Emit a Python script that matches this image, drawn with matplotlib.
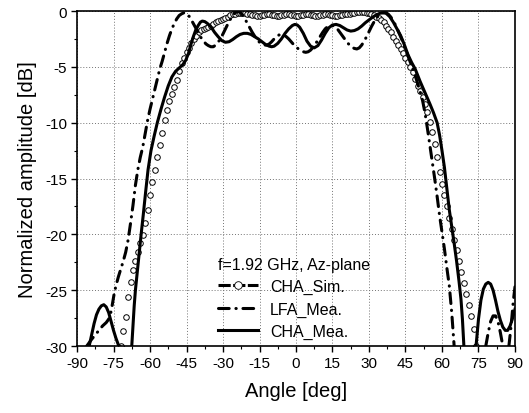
import numpy as np
import matplotlib
matplotlib.use("Agg")
import matplotlib.pyplot as plt
from matplotlib.lines import Line2D
from matplotlib.ticker import MultipleLocator

plt.rcParams['font.family'] = ['Liberation Sans', 'DejaVu Sans']
plt.rcParams['axes.unicode_minus'] = False

nan = np.nan

# CHA simulated pattern, 1 degree steps
sim_ang = list(range(-72, 75))
sim_db = [-30.0, -28.7, -27.4, -25.6, -24.3, -23.2, -22.4, -21.6, -20.8, -20.1,
          -19.0, -17.8, -16.5, -15.3, -14.2, -13.1, -12.0, -10.9, -9.8, -8.9,
          -8.1, -7.4, -6.8, -6.2, -5.4, -4.7, -4.2, -3.7, -3.3, -2.9,
          -2.5, -2.2, -1.9, -1.7, -1.6, -1.5, -1.4, -1.3, -1.2, -1.0,
          -0.9, -0.8, -0.7, -0.6, -0.5, -0.4, -0.3, -0.3, -0.2, -0.2,
          -0.15, -0.2, -0.25, -0.3, -0.35, -0.4, -0.45, -0.45, -0.4, -0.35,
          -0.3, -0.3, -0.35, -0.4, -0.45, -0.45, -0.4, -0.35, -0.3, -0.3,
          -0.35, -0.4, -0.45, -0.45, -0.4, -0.35, -0.3, -0.3, -0.35, -0.4,
          -0.45, -0.45, -0.4, -0.35, -0.3, -0.3, -0.35, -0.4, -0.45, -0.45,
          -0.4, -0.35, -0.3, -0.25, -0.25, -0.2, -0.15, -0.1, -0.1, -0.1,
          -0.1, -0.15, -0.2, -0.3, -0.4, -0.5, -0.6, -0.8, -1.0, -1.3,
          -1.6, -1.9, -2.3, -2.7, -3.0, -3.4, -3.8, -4.2, -4.6, -5.0,
          -5.5, -6.1, -6.7, -7.2, -7.7, -8.3, -9.0, -9.9, -10.8, -11.9,
          -13.1, -14.4, -15.5, -16.5, -17.5, -18.5, -19.5, -20.5, -21.4, -22.4,
          -23.4, -24.4, -25.3, -26.3, -27.3, -28.5, -30.0]

# LFA measured pattern
lfa_ang = [-86, -85, -84, -82.5, -81, -79.5, -78, -77, -76.2, -75.5, -74.8, -74,
           -73, -72, -71, -70, -69, -68, -67, -66, -65, -64, -63, -62, -61, -60,
           -59, -58, -57, -56, -55, -54, -53, -52, -51, -50, -49, -48, -47, -46,
           -45, -44, -43, -42, -41, -40, -39, -38, -37, -36, -35, -34, -33, -32,
           -31, -30, -29, -28, -27, -26, -25, -24, -23, -22, -21, -20, -19, -18,
           -17, -16, -15, -14, -13, -12, -11, -10, -9, -8, -7, -6, -5, -4, -3,
           -2, -1, 0, 1, 2, 3, 4, 5, 6, 7, 8, 9, 10, 11, 12, 13, 14, 15, 16, 17,
           18, 19, 20, 21, 22, 23, 24, 25, 26, 27, 28, 29, 30, 31, 32, 33, 34,
           35, 36, 37, 38, 39, 40, 41, 42, 43, 44, 45, 46, 47, 48, 49, 50, 51,
           52, 53, 54, 55, 56, 57, 58, 59, 60, 61, 62, 63, 64, 65,
           nan, 78, 79, 80, 81, 82, 83, 84, 85,
           nan, 87.5, 88.5, 89.3, 90]
lfa_db = [-30, -29.7, -29.4, -29.0, -28.6, -28.2, -27.9, -27.6, -27.1, -26.3, -25.4, -24.6,
          -23.8, -23.1, -22.4, -21.6, -20.5, -19.0, -17.4, -15.6, -14.2, -13.1, -12.2, -11.0, -9.8, -8.8,
          -7.9, -7.0, -6.1, -5.2, -4.5, -3.7, -2.9, -2.2, -1.6, -1.1, -0.7, -0.4, -0.25, -0.15,
          -0.2, -0.45, -0.8, -1.2, -1.6, -2.0, -2.4, -2.7, -2.95, -3.1, -3.2, -3.2, -3.05, -2.8,
          -2.45, -2.05, -1.6, -1.15, -0.75, -0.4, -0.15, -0.05, -0.1, -0.35, -0.7, -1.1, -1.5, -1.9,
          -2.25, -2.55, -2.8, -2.95, -3.05, -3.05, -2.95, -2.75, -2.5, -2.3, -2.15, -2.1, -2.15, -2.3, -2.5,
          -2.75, -3.0, -3.2, -3.4, -3.55, -3.65, -3.7, -3.65, -3.5, -3.25, -2.95, -2.6, -2.25, -1.9, -1.6, -1.4, -1.3, -1.3, -1.4, -1.6,
          -1.9, -2.2, -2.5, -2.8, -3.05, -3.25, -3.35, -3.4, -3.3, -3.05, -2.7, -2.3, -1.85, -1.4, -1.0, -0.65, -0.4,
          -0.25, -0.15, -0.15, -0.3, -0.55, -0.9, -1.3, -1.8, -2.3, -2.8, -3.4, -4.0, -4.6, -5.2, -5.8, -6.5, -7.2,
          -8.0, -9.1, -10.5, -12.0, -13.5, -15.0, -16.6, -18.3, -19.8, -21.3, -23.0, -24.6, -27.0, -30,
          nan, -30, -28.8, -27.8, -27.3, -27.3, -27.8, -28.8, -30,
          nan, -30, -28.0, -26.0, -24.7]

# CHA measured pattern
cha_ang = [-85, -84, -83, -82, -81, -80, -79, -78, -77, -76, -75, -74, -73, -72.5,
           nan,
           -67.5, -67, -66.5, -66, -65.3, -64.5, -63.7, -62.8, -61.8, -60.8, -59.6,
           -58.3, -57, -55.5, -54, -52.5, -51, -49.5, -48, -46.5, -45.3, -44.2,
           -43.2, -42.2, -41.2, -40.2, -39.3, -38.5, -37.5, -36.5, -35, -33.5, -32,
           -30.5, -29, -27.5, -26, -24.5, -23, -21.5, -20, -18.5, -17, -15.5, -14,
           -12.5, -11, -10, -9, -7.5, -6, -4.5, -3, -1.5, -0.5, 0.5, 1.5, 3, 4.5,
           6, 7.5, 9, 10.5, 12, 13.5, 15, 16.5, 18, 19.5, 21, 22.5, 24, 25.5, 27,
           28.5, 30, 31.5, 33, 34.5, 36, 37, 38.5, 40, 41.5, 43, 44.5, 46, 47.5,
           49, 51, 53, 55, 56.5, 58, 59, 60, 61, 62, 63, 64, 65, 66, 67, 67.8,
           68.4, 69,
           nan,
           74, 75, 76, 77, 78, 79, 80, 81, 82, 83, 84, 85, 86, 87, 88, 89, 90]
cha_db = [-30, -29.0, -28.0, -27.2, -26.7, -26.4, -26.3, -26.5, -27.0, -27.8, -28.6, -29.3, -29.9, -30,
          nan,
          -30, -28.2, -26.4, -25.0, -23.5, -21.8, -20.1, -18.3, -16.2, -14.2, -12.5,
          -11.2, -10.0, -8.8, -7.7, -6.7, -5.9, -5.4, -5.1, -4.8, -4.4, -3.8,
          -3.0, -2.3, -1.7, -1.3, -1.0, -0.9, -0.95, -1.1, -1.4, -1.9, -2.3,
          -2.65, -2.8, -2.75, -2.55, -2.3, -2.1, -2.0, -2.0, -2.1, -2.3, -2.5, -2.75,
          -3.0, -3.15, -3.2, -3.15, -2.9, -2.5, -2.0, -1.6, -1.3, -1.2, -1.25, -1.45, -2.0, -2.7,
          -3.15, -3.3, -3.1, -2.6, -2.0, -1.5, -1.25, -1.2, -1.3, -1.5, -1.7, -1.8, -1.75, -1.6, -1.35,
          -1.05, -0.8, -0.55, -0.35, -0.2, -0.15, -0.2, -0.5, -1.0, -1.6, -2.2, -3.0, -3.9, -4.6,
          -5.2, -6.3, -7.3, -8.3, -9.1, -10.0, -11.1, -12.5, -14.0, -15.9, -17.8, -19.3, -20.8, -22.4, -24.2, -25.8,
          -27.6, -30,
          nan,
          -30, -27.6, -25.9, -24.9, -24.45, -24.3, -24.45, -25.0, -25.9, -26.9, -27.7, -28.3, -28.6, -28.6, -28.2, -27.5, -26.7]

x_ticks = list(range(-90, 91, 15))
y_ticks = list(range(-30, 1, 5))

fig = plt.figure(figsize=(5.29, 4.14), dpi=100)
ax = fig.add_axes([0.1456, 0.1618, 0.8279, 0.8092])

dashdot = (0, (3.5, 2.2, 0.1, 2.2))

ax.plot(sim_ang, sim_db, ls='none', marker='o', ms=4, mfc='white', mec='k', mew=0.7,
        zorder=2)
ax.plot(lfa_ang, lfa_db, color='k', lw=2.2, ls=dashdot, dash_capstyle='round', zorder=3)
ax.plot(cha_ang, cha_db, color='k', lw=2.2, ls='-', zorder=4)

ax.set_xlim(-90, 90)
ax.set_ylim(-30, 0)
ax.set_xticks(x_ticks)
ax.set_yticks(y_ticks)
ax.xaxis.set_minor_locator(MultipleLocator(7.5))
ax.yaxis.set_minor_locator(MultipleLocator(2.5))
ax.tick_params(which='major', direction='out', length=4, width=1, labelsize=11, pad=3)
ax.tick_params(which='minor', direction='out', length=2.5, width=0.8)
ax.grid(True, which='major', color='0.45', ls=(0, (1, 2)), lw=0.7)

for s in ax.spines.values():
    s.set_linewidth(1.2)

ax.set_xlabel('Angle [deg]', fontsize=14.5, labelpad=8)
ax.set_ylabel('Normalized amplitude [dB]', fontsize=14.5, labelpad=6)

handles = [
    Line2D([], [], color='k', lw=2.2, ls=(0, (4, 0.8)), marker='o', ms=5.5, mfc='white',
           mec='k', mew=0.6),
    Line2D([], [], color='k', lw=2.2, ls=dashdot, dash_capstyle='round'),
    Line2D([], [], color='k', lw=2.2, ls='-'),
]
labels = ['CHA_Sim.', 'LFA_Mea.', 'CHA_Mea.']
leg = ax.legend(handles, labels, title='f=1.92 GHz, Az-plane', loc='upper left',
                bbox_to_anchor=(0.322, 0.266), frameon=False, fontsize=11.5,
                title_fontsize=11.5, handlelength=2.5, handletextpad=0.75,
                labelspacing=0.45, borderpad=0, borderaxespad=0, numpoints=1,
                alignment='left')

fig.savefig('out.png', dpi=100)
